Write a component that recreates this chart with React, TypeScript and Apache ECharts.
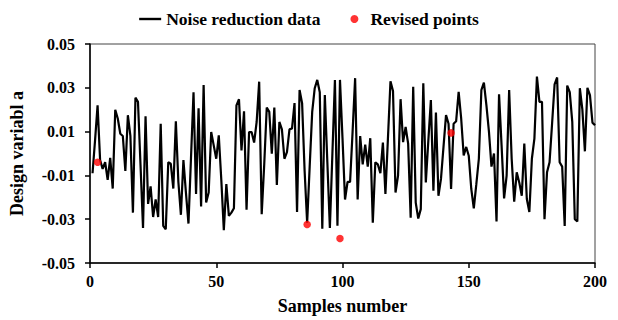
import React, { useEffect, useRef } from "react";
import * as echarts from "echarts";

const noiseValues: number[] = [
  -0.009, 0.006, 0.022, -0.003, -0.007, -0.004, -0.012, -0.002, -0.016, 0.02,
  0.016, 0.009, 0.008, -0.008, 0.0175, 0.008, -0.027, 0.0255, 0.0236, -0.005,
  -0.034, 0.017, -0.023, -0.015, -0.029, -0.021, -0.029, 0.0136, -0.033, -0.0346,
  -0.004, -0.0047, -0.016, 0.0147, -0.013, -0.028, -0.003, -0.018, -0.032, -0.002,
  0.028, -0.0185, 0.0206, -0.0242, 0.0313, -0.0224, -0.0178, 0.0098, 0.0037, -0.0024,
  0.0083, -0.012, -0.035, -0.014, -0.0285, -0.027, -0.025, 0.022, 0.0248, 0.0014,
  0.0193, -0.0257, 0.0098, 0.0098, 0.005, 0.0144, 0.0328, -0.0277, -0.005, 0.021,
  0.019, -0.0001, 0.021, -0.0144, 0.0144, 0.011, -0.0024, 0.0006, 0.011, 0.0114,
  0.023, -0.0267, 0.029, 0.023, -0.008, -0.0316, -0.006, 0.019, 0.0298, 0.0336,
  0.028, -0.0343, 0.0267, -0.004, -0.034, 0.0, 0.0336, -0.033, 0.0336, 0.007,
  -0.021, -0.013, -0.013, 0.01, 0.0344, -0.021, 0.008, -0.005, 0.004, -0.006,
  0.007, -0.0316, -0.004, -0.005, -0.009, 0.005, -0.0185, 0.007, 0.033, 0.0285,
  -0.0178, -0.0101, 0.0248, 0.0052, 0.0121, 0.0045, -0.0293, 0.0305, -0.0224, -0.0297,
  -0.0254, 0.0321, -0.0132, 0.006, 0.0244, -0.017, 0.0187, -0.0193, -0.0116, 0.003,
  0.0175, 0.0136, -0.0162, 0.0136, 0.0147, 0.0282, 0.016, -0.0009, 0.003, -0.001,
  -0.0162, -0.0251, -0.014, -0.0024, 0.029, 0.0324, 0.022, 0.01, -0.006, 0.0,
  -0.031, 0.027, 0.0037, -0.0205, -0.0101, 0.029, -0.0024, -0.022, -0.0086, -0.0132,
  -0.0193, 0.0045, -0.0208, -0.0267, -0.0024, 0.0068, 0.0351, 0.0236, 0.0236, -0.03,
  -0.0086, -0.004, 0.0136, 0.0316, 0.0347, -0.004, -0.006, -0.0331, 0.031, 0.028,
  0.0144, -0.03, -0.031, 0.0298, 0.02, 0.001, 0.03, 0.0267, 0.0141, 0.0129,
];

const revisedSamples: number[] = [3, 86, 99, 143];
const revisedValues: number[] = [-0.004, -0.0324, -0.0388, 0.0094];

const xTicks: number[] = [0, 50, 100, 150, 200];
const yTicks: number[] = [-0.05, -0.03, -0.01, 0.01, 0.03, 0.05];

const FONT = "'Liberation Serif', 'Times New Roman', serif";

export default function App() {
  const ref = useRef<HTMLDivElement>(null);
  useEffect(() => {
    if (!ref.current) return;
    const chart = echarts.init(ref.current, null, { renderer: "svg" });
    const lineData = noiseValues.map((v, i) => [i + 1, v]);
    const pointData = revisedSamples.map((s, i) => [s, revisedValues[i]]);
    chart.setOption({
      animation: false,
      backgroundColor: "#ffffff",
      textStyle: { fontFamily: FONT },
      legend: {
        top: 5,
        left: "center",
        itemGap: 30,
        itemWidth: 22,
        itemHeight: 8,
        textStyle: { fontFamily: FONT, fontWeight: "bold", fontSize: 17.5, color: "#000" },
        data: [
          { name: "Noise reduction data", icon: "path://M0,0H22V2.4H0Z" },
          { name: "Revised points", icon: "circle" },
        ],
      },
      grid: {
        left: 90,
        right: 23,
        top: 44,
        bottom: 57,
        show: true,
        borderColor: "#444",
        borderWidth: 1,
      },
      xAxis: {
        type: "value",
        min: xTicks[0],
        max: xTicks[xTicks.length - 1],
        interval: 50,
        name: "Samples number",
        nameLocation: "middle",
        nameGap: 34,
        nameTextStyle: { fontFamily: FONT, fontWeight: "bold", fontSize: 18, color: "#000" },
        axisLine: { show: true, onZero: false, lineStyle: { color: "#000", width: 1.5 } },
        axisTick: { show: true, inside: false, length: 5, lineStyle: { color: "#000", width: 1.5 } },
        axisLabel: {
          fontFamily: FONT,
          fontWeight: "bold",
          fontSize: 16,
          color: "#000",
          margin: 10,
        },
        splitLine: { show: false },
      },
      yAxis: {
        type: "value",
        min: yTicks[0],
        max: yTicks[yTicks.length - 1],
        interval: 0.02,
        name: "Design variabl a",
        nameLocation: "middle",
        nameGap: 64,
        nameTextStyle: { fontFamily: FONT, fontWeight: "bold", fontSize: 18, color: "#000" },
        axisLine: { show: true, onZero: false, lineStyle: { color: "#000", width: 1.5 } },
        axisTick: { show: true, inside: false, length: 5, lineStyle: { color: "#000", width: 1.5 } },
        axisLabel: {
          fontFamily: FONT,
          fontWeight: "bold",
          fontSize: 16,
          color: "#000",
          margin: 15,
          formatter: (v: number) => v.toFixed(2),
        },
        splitLine: { show: false },
      },
      series: [
        {
          name: "Noise reduction data",
          type: "line",
          data: lineData,
          showSymbol: false,
          symbol: "none",
          lineStyle: { color: "#000", width: 2.2 },
          itemStyle: { color: "#000" },
          z: 2,
        },
        {
          name: "Revised points",
          type: "scatter",
          data: pointData,
          symbol: "circle",
          symbolSize: 7.5,
          itemStyle: { color: "#ff0000" },
          z: 3,
        },
      ],
    });
    return () => chart.dispose();
  }, []);
  return (
    <div
      ref={ref}
      style={{ position: "absolute", left: 0, top: 0, width: 618, height: 320 }}
    />
  );
}
